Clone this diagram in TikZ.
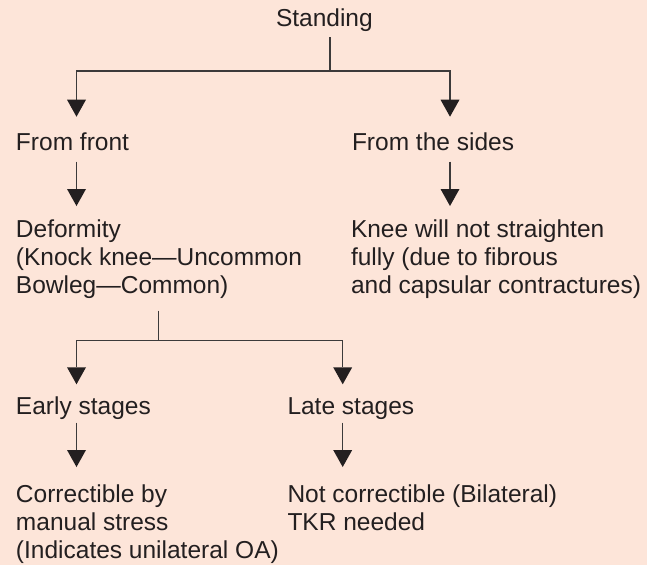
\documentclass[tikz,border=0pt]{standalone}
\usepackage{fontspec}
\setmainfont{Liberation Sans}
\usetikzlibrary{arrows.meta,calc}
\definecolor{bgpeach}{RGB}{253,229,217}
\definecolor{inkc}{RGB}{35,31,32}
\definecolor{linec}{RGB}{60,58,58}
\begin{document}
\begin{tikzpicture}[x=1pt,y=-1pt,
  txt/.style={anchor=north west,inner sep=0pt,outer sep=0pt,align=left,text=inkc,
    font=\fontsize{24.5}{28}\selectfont},
  conn/.style={draw=linec,line width=1.3pt},
  arr/.style={conn,-{Triangle[width=19pt,length=17pt,fill=inkc,line width=0pt]}}]
\fill[bgpeach] (0,0) rectangle (647,565);
\useasboundingbox (0,0) rectangle (647,565);
% columns of connectors
\coordinate (cL) at (76.5,0);
\coordinate (cR) at (450,0);
\coordinate (cM) at (342.7,0);
\coordinate (j1) at (330,71);
\coordinate (j2) at (158.3,340.5);
% nodes
\node[txt] (standing) at (276,7.1) {\strut Standing};
\node[txt] (fromfront) at (16,130.4) {\strut From front};
\node[txt] (fromsides) at (352,130.4) {\strut From the sides};
\node[txt] (deformity) at (16,217.9) {\strut Deformity\\\strut (Knock knee—Uncommon\\\strut Bowleg—Common)};
\node[txt] (knee) at (351,217.9) {\strut Knee will not straighten\\\strut fully (due to fibrous\\\strut and capsular contractures)};
\node[txt] (early) at (16,394.4) {\strut Early stages};
\node[txt] (late) at (287.5,394.4) {\strut Late stages};
\node[txt] (correctible) at (16,482.7) {\strut Correctible by\\\strut manual stress\\\strut (Indicates unilateral OA)};
\node[txt] (notcorr) at (287.5,482.7) {\strut Not correctible (Bilateral)\\\strut TKR needed};
% connectors
\draw[conn,shorten <=2.2pt] (standing.south -| j1) -- (j1);
\draw[arr,shorten >=13.7pt] (j1) -| (fromfront.north -| cL);
\draw[arr,shorten >=13.7pt] (j1) -| (fromsides.north -| cR);
\draw[arr,shorten <=3.3pt,shorten >=11.9pt] (fromfront.south -| cL) -- (deformity.north -| cL);
\draw[arr,shorten <=3.3pt,shorten >=11.9pt] (fromsides.south -| cR) -- (knee.north -| cR);
\draw[conn,shorten <=8.6pt] (deformity.south -| j2) -- (j2);
\draw[arr,shorten >=10.1pt] (j2) -| (early.north -| cL);
\draw[arr,shorten >=10.1pt] (j2) -| (late.north -| cM);
\draw[arr,shorten <=0.3pt,shorten >=15.7pt] (early.south -| cL) -- (correctible.north -| cL);
\draw[arr,shorten <=0.3pt,shorten >=15.7pt] (late.south -| cM) -- (notcorr.north -| cM);
\end{tikzpicture}
\end{document}
